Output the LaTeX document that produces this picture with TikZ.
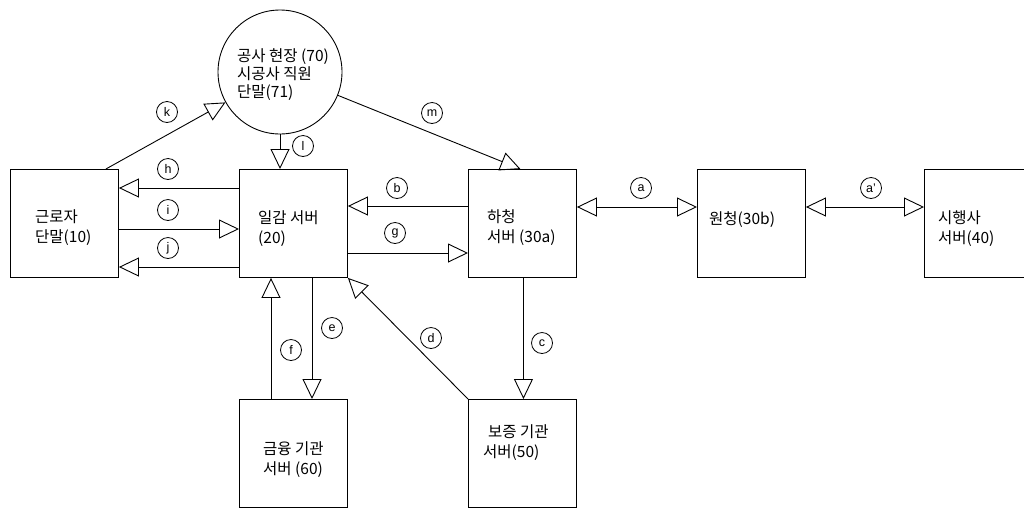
\documentclass[tikz,border=0pt]{standalone}
\usepackage{fontspec}
\newfontfamily\kr{Noto Sans CJK KR}
\setmainfont{Liberation Sans}
\usetikzlibrary{arrows.meta,calc}
\begin{document}
\begin{tikzpicture}[x=1pt,y=-1pt,
  box/.style={draw,line width=0.9pt,minimum width=108pt,minimum height=108pt,inner sep=0pt,anchor=north west},
  txt/.style={font=\kr\fontsize{15.5}{20}\selectfont,align=left,inner sep=0pt,anchor=west},
  lab/.style={draw,circle,line width=0.8pt,minimum size=21pt,inner sep=0pt,font=\fontsize{12.5}{12.5}\selectfont},
  tri/.tip={Triangle[open,length=20pt,width=19pt,line width=0.9pt]},
  arr/.style={line width=0.9pt,-tri},
  arrr/.style={line width=0.9pt,tri-tri}]
\useasboundingbox (0,0) rectangle (1024,507);
\clip (0,0) rectangle (1024,507);
\fill[white] (0,0) rectangle (1024,507);
% boxes
\node[box] (worker) at (10,169) {};
\node[box] (work) at (239,169) {};
\node[box] (sub) at (468,169) {};
\node[box] (prime) at (697,169) {};
\node[box] (exec) at (924,169) {};
\node[box] (fin) at (239,399) {};
\node[box] (guar) at (468,399) {};
\node[draw,circle,line width=0.9pt,minimum size=124pt,inner sep=0pt] (site) at (280,72) {};
% texts
\node[txt] (tworker) at (35,228) {근로자\\단말(10)};
\node[txt] (twork) at (258,229) {일감 서버\\(20)};
\node[txt] (tsub) at (487,228) {하청\\서버 (30a)};
\node[txt] (tprime) at (709,220) {원청(30b)};
\node[txt] (texec) at (938,229) {시행사\\서버(40)};
\node[txt] (tfin) at (263,460) {금융 기관\\서버 (60)};
\node[txt] (tguar) at (483,443) {\hspace{5pt}보증 기관\\서버(50)};
\node[txt,font=\kr\fontsize{15.5}{18}\selectfont] (tsite) at (237,75) {공사 현장 (70)\\시공사 직원\\단말(71)};
% connectors
\draw[arr] ($(worker.north east)+(-13,0)$) -- (site);
\draw[arr] (site.south) -- (site.south |- work.north);
\draw[arr] (site) -- ($(sub.north)+(-2,0)$);
\draw[arr] (work.west |- 0,188) -- (worker.east |- 0,188);
\draw[arr] (worker.east |- 0,229) -- (work.west |- 0,229);
\draw[arr] (work.west |- 0,267) -- (worker.east |- 0,267);
\draw[arr] (sub.west |- 0,206) -- (work.east |- 0,206);
\draw[arr] (work.east |- 0,253) -- (sub.west |- 0,253);
\draw[arrr] (sub.east |- 0,207) -- (prime.west |- 0,207);
\draw[arrr] (prime.east |- 0,207) -- (exec.west |- 0,207);
\draw[arr] ($(sub.south)+(1,0)$) -- ($(guar.north)+(1,0)$);
\draw[arr] (guar.north west) -- (work.south east);
\draw[arr] (work.south -| 312,0) -- (fin.north -| 312,0);
\draw[arr] (fin.north -| 271,0) -- (work.south -| 271,0);
% labels
\node[lab] (lk) at (167,112) {k};
\node[lab] (ll) at (303,146) {l};
\node[lab] (lm) at (432,113) {m};
\node[lab] (lh) at (168,169) {h};
\node[lab] (li) at (168,210) {i};
\node[lab] (lj) at (168,248) {j};
\node[lab] (lb) at (397,188) {b};
\node[lab] (lg) at (395,233) {g};
\node[lab] (la) at (641,188) {a};
\node[lab] (la2) at (871,188) {a'};
\node[lab] (lc) at (542,343) {c};
\node[lab] (ld) at (431,338) {d};
\node[lab] (le) at (332,328) {e};
\node[lab] (lf) at (291,350) {f};
\end{tikzpicture}
\end{document}
